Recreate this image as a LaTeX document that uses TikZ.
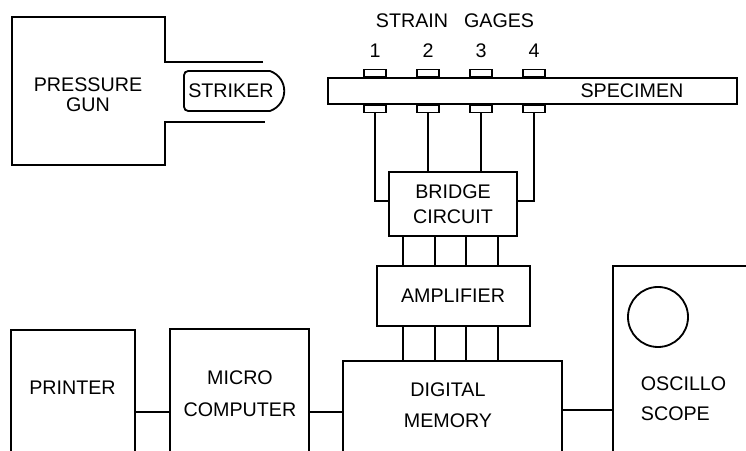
\documentclass[tikz,border=0pt]{standalone}
\usepackage{fontspec}
\setmainfont{Liberation Sans}
\usetikzlibrary{fit,positioning}

\begin{document}
\begin{tikzpicture}[x=0.025cm, y=-0.025cm, line width=1.3pt,
    unit/.style={draw, inner sep=0pt},
    pad/.style={draw, inner sep=0pt, minimum width=0.55cm, minimum height=0.19cm},
    lbl/.style={font=\fontsize{14}{14.2}\selectfont, align=center, inner sep=0pt}
]
\clip (0,0) rectangle (746,451);

% gun and striker
\draw (263,62) -- (165,62) -- (165,17) -- (12,17) -- (12,165) -- (165,165) -- (165,122) -- (265,122);
\node[lbl] (gun) at (88,95) {PRESSURE\\GUN};
\node[lbl] (striker) at (231,91) {STRIKER};
\draw[rounded corners=3pt] (270,71) -- (184,71) -- (184,111) -- (270,111);
\draw (270,111) .. controls (289,104) and (289,78) .. (270,71);

% specimen with gages
\node[unit, fit={(328,78)(737,104)}] (spec) {};
\node[lbl] (speclbl) at (632,91) {SPECIMEN};
\node[lbl] (gages) at (455,21) {STRAIN\hspace{0.4cm}GAGES};
\foreach \i/\x in {1/375,2/428,3/481,4/534} {
  \node[pad, anchor=south] (g\i t) at (\x,78) {};
  \node[pad, anchor=north] (g\i b) at (\x,104) {};
  \node[lbl] (n\i) at (\x,51) {\i};
}

% blocks
\node[unit, fit={(389,172)(517,236)}] (bridge) {};
\node[lbl] at (453,204.5) {BRIDGE\\[0.125cm]CIRCUIT};
\node[unit, fit={(377,266)(530,326)}] (amp) {};
\node[lbl] at (453,295.5) {AMPLIFIER};
\node[unit, fit={(343,361)(562,480)}] (mem) {};
\node[lbl] at (448,405) {DIGITAL\\[0.275cm]MEMORY};
\node[unit, fit={(613,266)(780,480)}] (osc) {};
\node[draw, circle, inner sep=0pt, minimum size=1.5cm] (crt) at (658,317) {};
\node[lbl, anchor=west, align=left] at (640,399) {OSCILLO\\[0.25cm]SCOPE};
\node[unit, fit={(11,330)(135,480)}] (printer) {};
\node[lbl] at (72.5,388) {PRINTER};
\node[unit, fit={(170,329)(309,480)}] (micro) {};
\node[lbl] at (240,393.5) {MICRO\\[0.3cm]COMPUTER};

% wiring
\draw (g1b.south) |- (bridge.west |- 0,201);
\draw (g4b.south) |- (bridge.east |- 0,201);
\draw (g2b.south) -- (g2b.south |- bridge.north);
\draw (g3b.south) -- (g3b.south |- bridge.north);
\foreach \xx in {403,435,466,498} {
  \draw (\xx,0 |- bridge.south) -- (\xx,0 |- amp.north);
  \draw (\xx,0 |- amp.south) -- (\xx,0 |- mem.north);
}
\draw (printer.east |- 0,412) -- (micro.west |- 0,412);
\draw (micro.east |- 0,412) -- (mem.west |- 0,412);
\draw (mem.east |- 0,410) -- (osc.west |- 0,410);
\end{tikzpicture}
\end{document}
